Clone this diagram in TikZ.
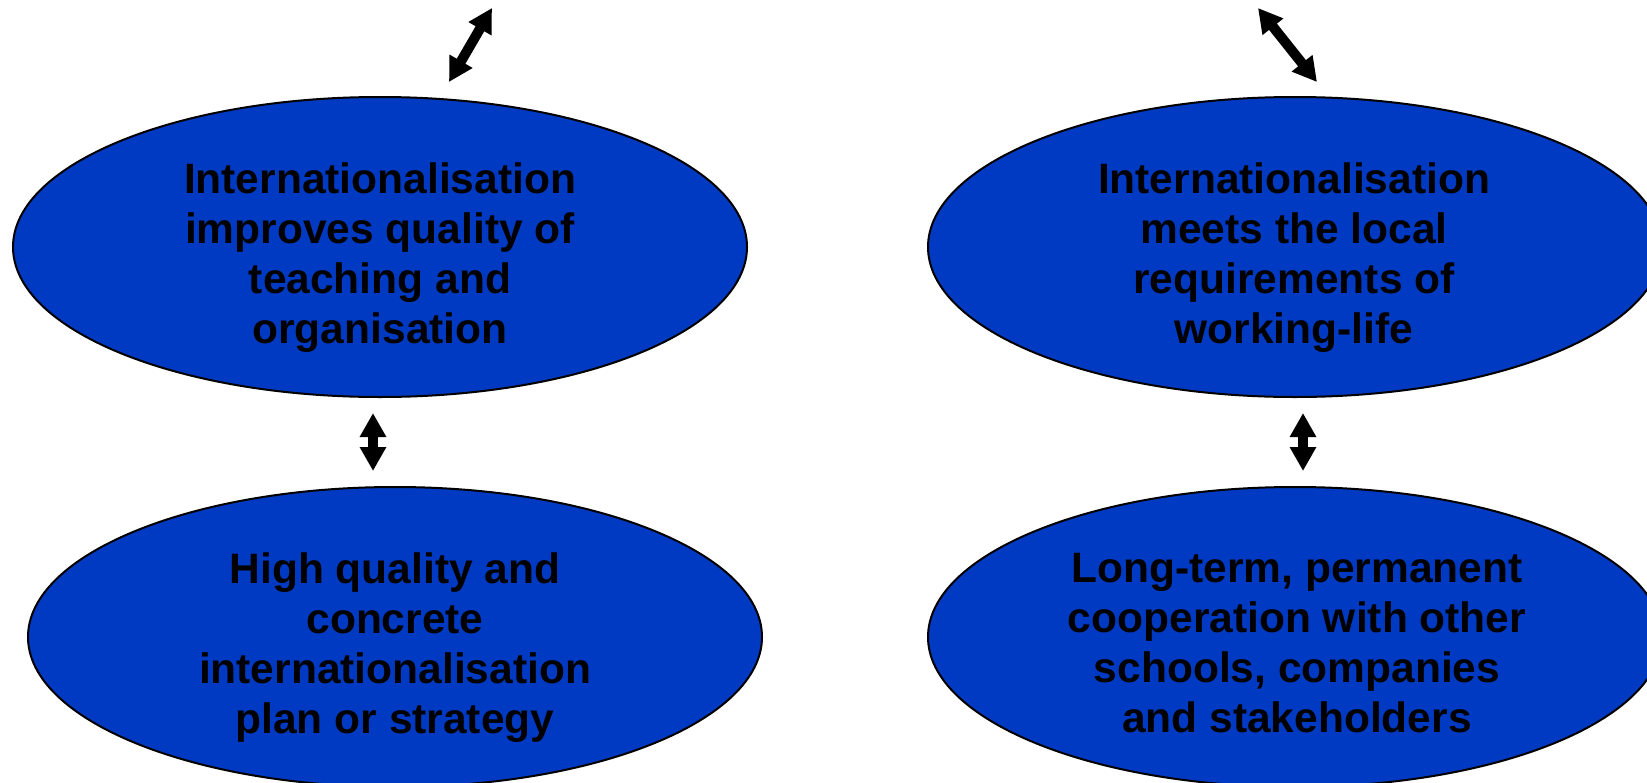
\documentclass[tikz,border=0pt]{standalone}
\usepackage{fontspec}
\setmainfont{Liberation Sans}
\usetikzlibrary{shapes.geometric,arrows.meta}
\definecolor{ellblue}{RGB}{0,58,194}
\tikzset{
  bubble/.style={ellipse, draw=black, line width=2pt, fill=ellblue,
    minimum width=734pt, minimum height=300pt, inner sep=0pt},
  label/.style={align=center, inner sep=0pt, text=black,
    font=\fontsize{42.5pt}{50pt}\selectfont\bfseries},
  dblarrow/.style={line width=10pt, draw=black,
    {Triangle[width=25pt,length=24pt]}-{Triangle[width=25pt,length=24pt]}}
}
\begin{document}
\begin{tikzpicture}[x=1pt,y=-1pt]
\useasboundingbox (0,0) rectangle (1647,782);
\clip (0,0) rectangle (1647,782);
\node[bubble] (tl) at (380,247) {};
\node[bubble] (tr) at (1295,247) {};
\node[bubble] (bl) at (395,637) {};
\node[bubble] (br) at (1295,637) {};
\node[label] (tltext) at (380,258) {Internationalisation\\improves quality of\\teaching and\\organisation};
\node[label] (trtext) at (1294,258) {Internationalisation\\meets the local\\requirements of\\working-life};
\node[label] (bltext) at (395,648) {High quality and\\concrete\\internationalisation\\plan or strategy};
\node[label] (brtext) at (1297,643) {Long-term, permanent\\cooperation with other\\schools, companies\\and stakeholders};
\coordinate (a1s) at (449,82);
\coordinate (a1e) at (492,8);
\coordinate (a2s) at (1317,82);
\coordinate (a2e) at (1258,8);
\coordinate (a3s) at (373,413);
\coordinate (a3e) at (373,471);
\coordinate (a4s) at (1303,413);
\coordinate (a4e) at (1303,471);
\draw[dblarrow] (a1s) -- (a1e);
\draw[dblarrow] (a2s) -- (a2e);
\draw[dblarrow] (a3s) -- (a3e);
\draw[dblarrow] (a4s) -- (a4e);
\end{tikzpicture}
\end{document}
